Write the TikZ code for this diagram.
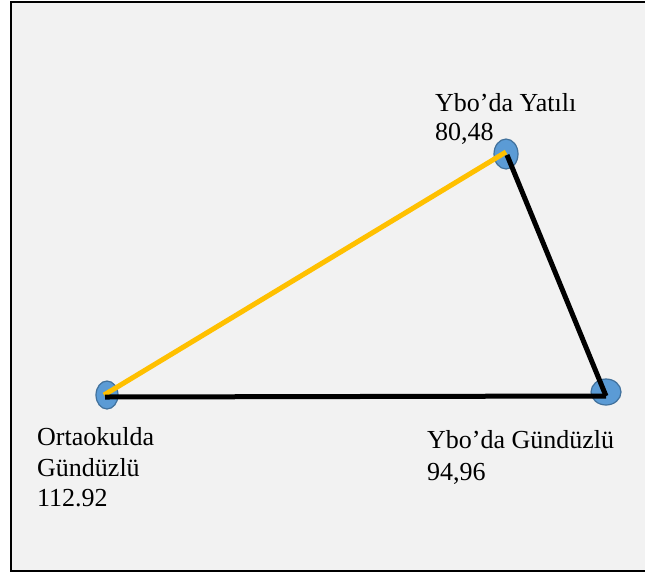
\documentclass[tikz,border=0pt]{standalone}
\usepackage{fontspec}
\setmainfont{Liberation Serif}
\definecolor{bgpanel}{HTML}{F2F2F2}
\definecolor{dotfill}{HTML}{5B9BD5}
\definecolor{dotline}{HTML}{41719C}
\definecolor{linegold}{HTML}{FFC000}
\tikzset{
  dot/.style={ellipse, fill=dotfill, draw=dotline, line width=1.2pt, inner sep=0pt},
  lbl/.style={anchor=base west, inner sep=0pt, font=\fontsize{26}{30}\selectfont},
  edgeline/.style={line width=5pt}
}
\usetikzlibrary{shapes.geometric}
\begin{document}
\begin{tikzpicture}[x=1pt,y=-1pt]
\useasboundingbox (0,0) rectangle (645,574);
\fill[white] (0,0) rectangle (645,574);
\draw[line width=2pt, fill=bgpanel] (11,2) rectangle (660,571);
\node[dot, minimum width=22pt, minimum height=28pt] (A) at (107,395) {};
\node[dot, minimum width=24pt, minimum height=30pt] (B) at (506,154) {};
\node[dot, minimum width=30pt, minimum height=26pt] (C) at (606,392) {};
\coordinate (Ay) at (104,395);
\coordinate (Ab) at (105,397);
\coordinate (By) at (506,152);
\coordinate (Bb) at (507,155);
\coordinate (Cb) at (606,396);
\draw[edgeline, linegold] (Ay) -- (By);
\draw[edgeline, black] (Bb) -- (Cb);
\draw[edgeline, black] (Cb) -- (Ab);
\node[lbl] (t1) at (435,111) {Ybo’da Yatılı};
\node[lbl] (t2) at (435,140) {80,48};
\node[lbl] (t3) at (37,445) {Ortaokulda};
\node[lbl] (t4) at (37,476) {Gündüzlü};
\node[lbl] (t5) at (37,506) {112.92};
\node[lbl] (t6) at (427,448) {Ybo’da Gündüzlü};
\node[lbl] (t7) at (427,480) {94,96};
\end{tikzpicture}
\end{document}
